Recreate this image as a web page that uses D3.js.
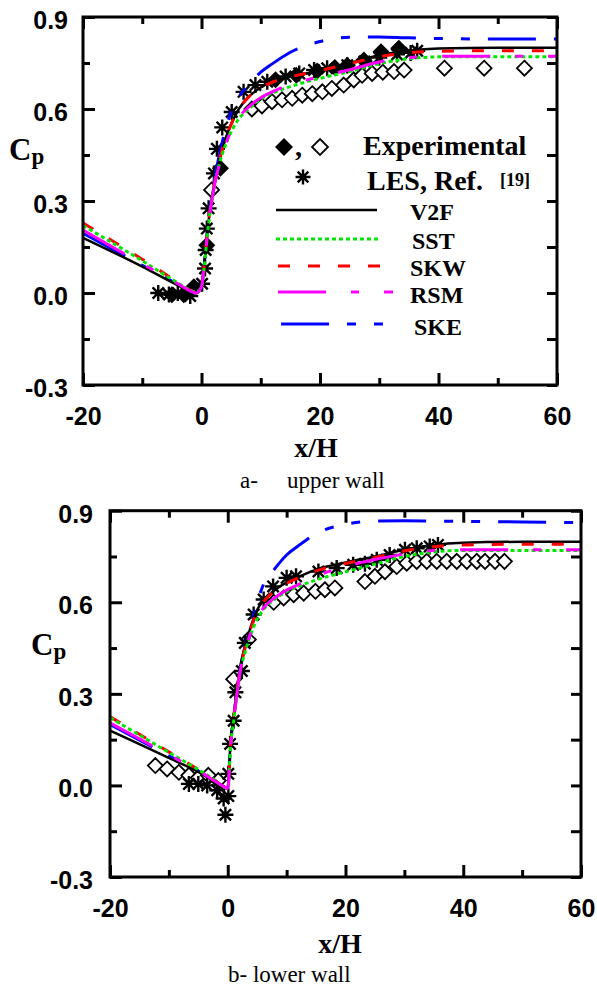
<!DOCTYPE html>
<html>
<head>
<meta charset="utf-8">
<script src="https://cdn.jsdelivr.net/npm/d3@7"></script>
<style>
  body { margin: 0; background: #fff; }
  .tick text { font-family: "Liberation Sans", Arial, sans-serif; font-weight: bold; font-size: 25px; fill: #000; }
  .tick line { stroke: #000; stroke-width: 3; }
  .serif { font-family: "Liberation Serif", "Times New Roman", serif; fill: #000; }
</style>
</head>
<body>
<div id="chart"></div>
<script>
// ======= data ========

var xGrid = [-20, -10, -4, -2, -1, 0, 0.5, 1, 1.5, 2, 3, 4, 5, 6, 8, 10, 12, 15, 20, 25, 30, 35, 40, 50, 60];

// upper wall, Cp of each model on xGrid
var upperV2F = [0.18, 0.086, 0.025, 0.006, 0.0, 0.02, 0.1, 0.2, 0.28, 0.34, 0.43, 0.5, 0.55, 0.59, 0.64, 0.67, 0.689, 0.705, 0.725, 0.75, 0.775, 0.79, 0.797, 0.8, 0.8];
var upperSST = [0.22, 0.105, 0.033, 0.01, 0.003, 0.02, 0.09, 0.19, 0.27, 0.33, 0.42, 0.48, 0.525, 0.56, 0.6, 0.632, 0.652, 0.673, 0.7, 0.722, 0.748, 0.764, 0.77, 0.77, 0.77];
var upperSKW = [0.228, 0.11, 0.035, 0.01, 0.003, 0.02, 0.1, 0.2, 0.28, 0.34, 0.43, 0.5, 0.55, 0.59, 0.64, 0.67, 0.688, 0.705, 0.725, 0.748, 0.77, 0.783, 0.788, 0.79, 0.79];
var upperRSM = [0.205, 0.095, 0.03, 0.008, 0.0, 0.02, 0.1, 0.19, 0.27, 0.33, 0.42, 0.48, 0.53, 0.565, 0.607, 0.637, 0.657, 0.68, 0.705, 0.728, 0.753, 0.767, 0.772, 0.772, 0.772];
var upperSKE = [0.195, 0.09, 0.028, 0.006, 0.0, 0.02, 0.1, 0.2, 0.29, 0.35, 0.45, 0.53, 0.59, 0.63, 0.68, 0.72, 0.748, 0.785, 0.82, 0.834, 0.835, 0.832, 0.83, 0.828, 0.828];

// lower wall, Cp of each model on xGrid
var lowerV2F = [0.18, 0.09, 0.033, 0.008, -0.008, -0.01, 0.15, 0.225, 0.305, 0.375, 0.46, 0.525, 0.575, 0.605, 0.64, 0.665, 0.683, 0.707, 0.73, 0.75, 0.772, 0.788, 0.795, 0.798, 0.798];
var lowerSST = [0.222, 0.108, 0.04, 0.015, 0.0, -0.01, 0.13, 0.21, 0.29, 0.36, 0.44, 0.5, 0.545, 0.575, 0.61, 0.635, 0.652, 0.673, 0.7, 0.725, 0.75, 0.765, 0.77, 0.77, 0.77];
var lowerSKW = [0.225, 0.11, 0.04, 0.015, 0.0, -0.01, 0.14, 0.22, 0.3, 0.37, 0.455, 0.52, 0.57, 0.6, 0.638, 0.662, 0.68, 0.703, 0.727, 0.747, 0.768, 0.782, 0.788, 0.79, 0.79];
var lowerRSM = [0.205, 0.1, 0.037, 0.012, 0.0, -0.01, 0.13, 0.21, 0.29, 0.36, 0.445, 0.505, 0.55, 0.58, 0.615, 0.64, 0.658, 0.685, 0.718, 0.74, 0.758, 0.77, 0.772, 0.772, 0.772];
var lowerSKE = [0.2, 0.097, 0.036, 0.012, 0.0, -0.01, 0.14, 0.22, 0.3, 0.37, 0.46, 0.53, 0.6, 0.655, 0.71, 0.755, 0.785, 0.825, 0.855, 0.866, 0.867, 0.866, 0.865, 0.863, 0.861];

// LES, Ref. [19]  [x/H, Cp]
var upperLES = [[-7.3, 0.0], [-5.5, -0.005], [-4, 0.0], [-1.9, -0.01], [0.1, 0.03], [0.6, 0.08], [0.7, 0.14], [0.9, 0.21], [1.2, 0.276], [2.1, 0.39], [2.6, 0.47], [3.5, 0.54], [5.1, 0.59], [7.1, 0.656], [9.1, 0.678], [11.1, 0.689], [14.2, 0.706], [16.5, 0.716], [19, 0.727], [21.2, 0.733], [24.6, 0.743], [27.5, 0.755], [30, 0.768], [33, 0.778], [35.3, 0.783], [36.4, 0.79]];
var lowerLES = [[-6.6, 0.005], [-5, 0.005], [-3.5, 0.0], [-1.8, -0.016], [-0.7, -0.043], [0.1, -0.035], [-0.4, -0.096], [0.1, 0.038], [0.4, 0.136], [1, 0.212], [1.3, 0.305], [2.4, 0.375], [2.9, 0.467], [4.4, 0.56], [6.1, 0.609], [7.7, 0.652], [10, 0.68], [11.6, 0.685], [15.4, 0.701], [18.5, 0.712], [21.3, 0.723], [23.3, 0.726], [25.3, 0.739], [27.5, 0.755], [30.1, 0.772], [32.1, 0.777], [34.3, 0.783], [35.7, 0.788]];

// Experimental, filled and open diamonds  [x/H, Cp]
var upperExpFilled = [[-5, -0.006], [-3, -0.006], [-1.3, 0.02], [0.9, 0.156], [3.2, 0.407], [12.5, 0.695], [16, 0.71], [19.5, 0.724], [22.5, 0.735], [24.6, 0.743], [27.4, 0.76], [30.3, 0.787], [33.3, 0.798]];
var upperExpOpen = [[1.7, 0.336], [8.5, 0.6], [10.2, 0.61], [11.9, 0.624], [13.6, 0.63], [15.3, 0.635], [17, 0.645], [18.7, 0.65], [20.4, 0.656], [22, 0.667], [24, 0.678], [25.7, 0.695], [27.1, 0.71], [28.8, 0.716], [30.6, 0.72], [32.5, 0.722], [34.2, 0.727], [41, 0.733], [47.7, 0.733], [54.5, 0.733]];
var lowerExpOpen = [[-12.3, 0.065], [-10.3, 0.054], [-8.3, 0.043], [-6.6, 0.033], [-5, 0.025], [-3.3, 0.033], [-1.6, 0.016], [1, 0.348], [3.5, 0.478], [7.8, 0.6], [9.5, 0.614], [11.2, 0.625], [12.9, 0.63], [14.9, 0.636], [16.5, 0.641], [18.2, 0.647], [23.3, 0.668], [25, 0.685], [26.7, 0.7], [28.7, 0.717], [30.4, 0.728], [32.1, 0.734], [33.8, 0.734], [35.5, 0.734], [37.2, 0.734], [38.9, 0.734], [40.6, 0.734], [42.3, 0.734], [43.7, 0.734], [45.4, 0.734], [47, 0.734]];

var modelNames = ["V2F", "SST", "SKW", "RSM", "SKE"];
var xTicks = [-20, 0, 20, 40, 60];
var xTickLabels = ["-20", "0", "20", "40", "60"];
var xMinorTicks = [-10, 10, 30, 50];
var yTicks = [-0.3, 0, 0.3, 0.6, 0.9];
var yTickLabels = ["-0.3", "0.0", "0.3", "0.6", "0.9"];
var yMinorTicks = [-0.15, 0.15, 0.45, 0.75];

// ======= styles ========

var styles = {
  V2F: { color: "#000000", dash: null, w: 2.5 },
  SST: { color: "#00e600", dash: "4,3", w: 3 },
  SKW: { color: "#ff0000", dash: "12,18", w: 3 },
  RSM: { color: "#ff00ff", dash: "48,25,8,25", w: 3 },
  SKE: { color: "#0000ff", dash: "48,18,9,18,9,18", w: 3 }
};
var drawOrder = ["SKE", "V2F", "SKW", "SST", "RSM"];

var svg = d3.select("#chart")
  .append("svg")
    .attr("width", 597)
    .attr("height", 987);

function diamond(r) { return "M0," + (-r) + "L" + r + ",0L0," + r + "L" + (-r) + ",0Z"; }
function star(r) {
  var a = r * 0.7071;
  return "M" + (-r) + ",0H" + r + "M0," + (-r) + "V" + r +
    "M" + (-a) + "," + (-a) + "L" + a + "," + a + "M" + (-a) + "," + a + "L" + a + "," + (-a);
}

function drawPanel(p) {
  var x = d3.scaleLinear().domain([-20, 60]).range([p.left, p.right]);
  var y = d3.scaleLinear().domain([-0.3, 0.9]).range([p.bottom, p.top]);
  var g = svg.append("g");

  // markers
  g.selectAll(".open").data(p.open).enter().append("path")
    .attr("d", diamond(7.5))
    .attr("transform", function(d) { return "translate(" + x(d[0]) + "," + y(d[1]) + ")"; })
    .style("fill", "#fff").style("stroke", "#000").style("stroke-width", 1.8);
  g.selectAll(".filled").data(p.filled).enter().append("path")
    .attr("d", diamond(8.5))
    .attr("transform", function(d) { return "translate(" + x(d[0]) + "," + y(d[1]) + ")"; })
    .style("fill", "#000");
  g.selectAll(".les").data(p.les).enter().append("path")
    .attr("d", star(8))
    .attr("transform", function(d) { return "translate(" + x(d[0]) + "," + y(d[1]) + ")"; })
    .style("stroke", "#000").style("stroke-width", 2.4);

  // model curves
  var line = d3.line()
    .x(function(d) { return x(d[0]); })
    .y(function(d) { return y(d[1]); })
    .curve(d3.curveMonotoneX);
  drawOrder.forEach(function(m) {
    var pts = xGrid.map(function(v, i) { return [v, p.curves[m][i]]; });
    g.append("path")
      .attr("d", line(pts))
      .style("fill", "none")
      .style("stroke", styles[m].color)
      .style("stroke-width", styles[m].w)
      .style("stroke-dasharray", styles[m].dash);
  });

  // axes
  function clean(sel) { sel.select(".domain").remove(); }
  g.append("g").attr("transform", "translate(0," + p.bottom + ")")
    .call(d3.axisBottom(x).tickValues(xTicks).tickSize(-12).tickPadding(22)
      .tickFormat(function(d, i) { return xTickLabels[i]; }))
    .call(clean);
  g.append("g").attr("transform", "translate(0," + p.bottom + ")")
    .call(d3.axisBottom(x).tickValues(xMinorTicks).tickSize(-7).tickFormat("")).call(clean);
  g.append("g").attr("transform", "translate(0," + p.top + ")")
    .call(d3.axisTop(x).tickValues(xTicks).tickSize(-12).tickFormat("")).call(clean);
  g.append("g").attr("transform", "translate(0," + p.top + ")")
    .call(d3.axisTop(x).tickValues(xMinorTicks).tickSize(-7).tickFormat("")).call(clean);
  g.append("g").attr("transform", "translate(" + p.left + ",0)")
    .call(d3.axisLeft(y).tickValues(yTicks).tickSize(-12).tickPadding(p.yPad)
      .tickFormat(function(d, i) { return yTickLabels[i]; }))
    .call(clean)
    .selectAll("text").attr("dy", "0.46em");
  g.append("g").attr("transform", "translate(" + p.left + ",0)")
    .call(d3.axisLeft(y).tickValues(yMinorTicks).tickSize(-7).tickFormat("")).call(clean);
  g.append("g").attr("transform", "translate(" + p.right + ",0)")
    .call(d3.axisRight(y).tickValues(yTicks.concat(yMinorTicks)).tickSize(-10).tickFormat("")).call(clean);

  g.append("rect")
    .attr("x", p.left).attr("y", p.top)
    .attr("width", p.right - p.left).attr("height", p.bottom - p.top)
    .style("fill", "none").style("stroke", "#000").style("stroke-width", 3);

  // titles
  g.append("text").attr("class", "serif")
    .attr("x", p.xLabel[0]).attr("y", p.xLabel[1])
    .attr("text-anchor", "middle")
    .style("font-size", "28px").style("font-weight", "bold")
    .text("x/H");
  var cp = g.append("text").attr("class", "serif")
    .attr("x", p.cp[0]).attr("y", p.cp[1])
    .style("font-weight", "bold");
  cp.append("tspan").style("font-size", "31px").text("C");
  cp.append("tspan").attr("dy", 4).style("font-size", "23px").text("p");

  return { x: x, y: y, g: g };
}

var upper = drawPanel({
  left: 83, right: 557, top: 17, bottom: 385, yPad: 15,
  curves: { V2F: upperV2F, SST: upperSST, SKW: upperSKW, RSM: upperRSM, SKE: upperSKE },
  les: upperLES, filled: upperExpFilled, open: upperExpOpen,
  xLabel: [316, 457], cp: [9, 160]
});

var lower = drawPanel({
  left: 110, right: 581, top: 510.7, bottom: 877, yPad: 17,
  curves: { V2F: lowerV2F, SST: lowerSST, SKW: lowerSKW, RSM: lowerRSM, SKE: lowerSKE },
  les: lowerLES, filled: [], open: lowerExpOpen,
  xLabel: [340, 953], cp: [31, 655]
});

// captions
svg.append("text").attr("class", "serif").attr("x", 240).attr("y", 488)
  .style("font-size", "23px").text("a-");
svg.append("text").attr("class", "serif").attr("x", 287).attr("y", 488)
  .style("font-size", "23px").text("upper wall");
svg.append("text").attr("class", "serif").attr("x", 228).attr("y", 982)
  .style("font-size", "23px").text("b- lower wall");

// ======= legend (upper panel) ========

var legend = svg.append("g");
legend.append("path").attr("d", diamond(9)).attr("transform", "translate(284,147)").style("fill", "#000");
legend.append("text").attr("class", "serif").attr("x", 295).attr("y", 156)
  .style("font-size", "28px").style("font-weight", "bold").text(",");
legend.append("path").attr("d", diamond(8)).attr("transform", "translate(320,147)")
  .style("fill", "#fff").style("stroke", "#000").style("stroke-width", 1.8);
legend.append("path").attr("d", star(7.5)).attr("transform", "translate(303,177)")
  .style("stroke", "#000").style("stroke-width", 2.4);
legend.append("text").attr("class", "serif").attr("x", 363).attr("y", 155)
  .style("font-size", "28px").style("font-weight", "bold").text("Experimental");
legend.append("text").attr("class", "serif").attr("x", 367).attr("y", 190)
  .style("font-size", "28px").style("font-weight", "bold").text("LES, Ref.");
legend.append("text").attr("class", "serif").attr("x", 500).attr("y", 186)
  .style("font-size", "18px").style("font-weight", "bold").text("[19]");

var legendRows = [
  { m: "V2F", ly: 210, x0: 276, x1: 377, tx: 410, ty: 220 },
  { m: "SST", ly: 239, x0: 276, x1: 378, tx: 412, ty: 249 },
  { m: "SKW", ly: 266, x0: 278, x1: 380, tx: 410, ty: 276 },
  { m: "RSM", ly: 292, x0: 278, x1: 393, tx: 410, ty: 303 },
  { m: "SKE", ly: 324, x0: 281, x1: 383, tx: 414, ty: 335 }
];
legendRows.forEach(function(r) {
  legend.append("line")
    .attr("x1", r.x0).attr("x2", r.x1).attr("y1", r.ly).attr("y2", r.ly)
    .style("stroke", styles[r.m].color)
    .style("stroke-width", styles[r.m].w)
    .style("stroke-dasharray", styles[r.m].dash);
  legend.append("text").attr("class", "serif")
    .attr("x", r.tx).attr("y", r.ty)
    .style("font-size", "24px").style("font-weight", "bold")
    .text(r.m);
});
</script>
</body>
</html>
